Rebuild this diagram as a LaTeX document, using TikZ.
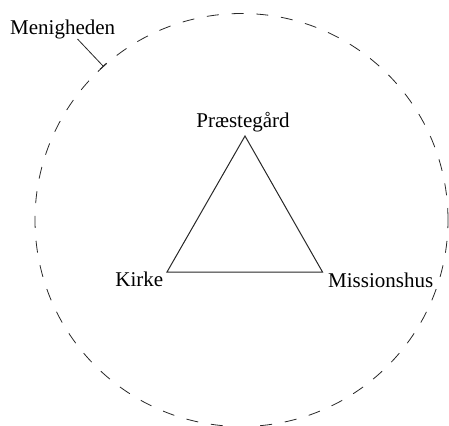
\documentclass[tikz,border=0pt]{standalone}
\usepackage{fontspec}
\setmainfont{Liberation Serif}
\usetikzlibrary{arrows.meta}
\definecolor{ink}{RGB}{40,40,40}
\begin{document}
\begin{tikzpicture}[x={(1pt,0)},y={(0,-1pt)},
  lbl/.style={inner sep=0pt,font=\fontsize{21}{25}\selectfont,text=black},
  ring/.style={draw=ink,line width=0.8pt,dash pattern=on 12pt off 12.8pt},
  edge/.style={draw=ink,line width=1pt,line join=miter},
  leader/.style={draw=ink,line width=0.8pt,-{Bar[width=9pt,line width=0.8pt]}}]
\useasboundingbox (0,0) rectangle (449,425);
\node[ring,circle,minimum size=413pt,inner sep=0pt] (circ) at (241.5,220) {};
\coordinate (P) at (245,136);
\coordinate (K) at (167,272);
\coordinate (M) at (322.5,272);
\draw[edge] (P) -- (K) -- (M) -- cycle;
\node[lbl,anchor=base] (lp) at (243,128) {Præstegård};
\node[lbl,anchor=base east] (lk) at (163.5,286) {Kirke};
\node[lbl,anchor=base west] (lm) at (328,287) {Missionshus};
\node[lbl,anchor=base west] (lmen) at (10,35) {Menigheden};
\coordinate (lstart) at (77.5,39);
\coordinate (lend) at (103.5,66.5);
\draw[leader] (lstart) -- (lend);
\end{tikzpicture}
\end{document}
